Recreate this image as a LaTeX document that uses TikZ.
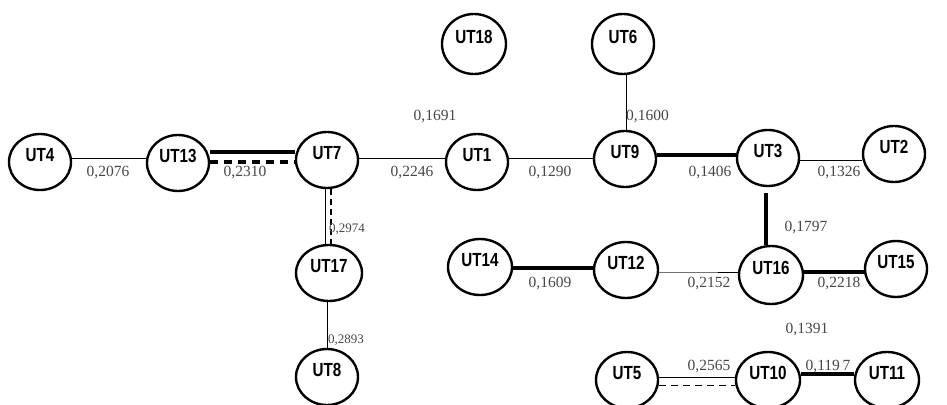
\documentclass[tikz,border=0pt]{standalone}
\usepackage{fontspec}
\setmainfont{Liberation Serif}
\newfontfamily\utfont{Liberation Sans}
\usetikzlibrary{shapes.geometric}
% node caption: condensed bold, sitting a little above the centre
\newcommand\utl[1]{\raisebox{14pt}{\scalebox{0.8}[1]{#1}}}

\begin{document}
\begin{tikzpicture}[x=1pt,y=-1pt,
  ut/.style={ellipse, draw, line width=2.4pt, minimum width=62pt, minimum height=56pt,
             inner sep=0pt, font=\utfont\bfseries\fontsize{19}{19}\selectfont},
  wt/.style={text=black!72, inner sep=0pt, font=\fontsize{15.5}{16}\selectfont},
  wts/.style={text=black!72, inner sep=0pt, anchor=west, font=\fontsize{13}{13}\selectfont},
  thinedge/.style={line width=0.9pt},
  thickedge/.style={line width=3.4pt},
  heavydash/.style={line width=3.4pt, dash pattern=on 8pt off 6pt},
  lightdash/.style={line width=1pt, dash pattern=on 7pt off 5pt},
]
\useasboundingbox (0,0) rectangle (947,404);
\clip (0,0) rectangle (947,404);

% ---- units ----
\node[ut] (UT4)  at (40,162)  {\utl{UT4}};
\node[ut] (UT13) at (178,163) {\utl{UT13}};
\node[ut] (UT7)  at (327,160) {\utl{UT7}};
\node[ut] (UT1)  at (477,162) {\utl{UT1}};
\node[ut] (UT9)  at (625,159) {\utl{UT9}};
\node[ut] (UT3)  at (768,158) {\utl{UT3}};
\node[ut] (UT2)  at (894,154) {\utl{UT2}};
\node[ut, minimum width=64pt, minimum height=60pt] (UT18) at (474,44)  {\utl{UT18}};
\node[ut, minimum height=60pt] (UT6)  at (623,44)  {\utl{UT6}};
\node[ut, minimum width=66pt] (UT17) at (329,273) {\utl{UT17}};
\node[ut] (UT8)  at (327,377) {\utl{UT8}};
\node[ut, minimum width=64pt] (UT14) at (480,267) {\utl{UT14}};
\node[ut, minimum width=64pt] (UT12) at (626,270) {\utl{UT12}};
\node[ut, minimum width=64pt, minimum height=58pt] (UT16) at (771,275) {\utl{UT16}};
\node[ut] (UT15) at (896,269) {\utl{UT15}};
\node[ut] (UT5)  at (627,380) {\utl{UT5}};
\node[ut, minimum width=64pt] (UT10) at (768,380) {\utl{UT10}};
\node[ut, minimum width=64pt] (UT11) at (887,380) {\utl{UT11}};

% ---- links, upper row ----
\draw[thinedge]  (UT4.east |- 0,158)  -- (UT13.west |- 0,158);
\draw[thickedge] (UT13.east |- 0,152) -- (UT7.west |- 0,152);
\draw[heavydash] (UT13.east |- 0,162) -- (UT7.west |- 0,162);
\draw[thinedge]  (UT7.east |- 0,158)  -- (UT1.west |- 0,158);
\draw[thinedge]  (UT1.east |- 0,158)  -- (UT9.west |- 0,158);
\draw[thickedge] (UT9.east |- 0,155)  -- (UT3.west |- 0,155);
\draw[thinedge]  (UT3.east |- 0,160)  -- (UT2.west |- 0,160);

% ---- vertical links ----
\draw[thinedge]  (UT6.south -| 626,0) -- (UT9.north -| 626,0);
\draw[thinedge]  (UT7.south -| 325,0) -- (UT17.north -| 325,0);
\draw[line width=2.2pt, dash pattern=on 6pt off 4pt] (UT7.south -| 331,0) -- (UT17.north -| 331,0);
\draw[thinedge]  (UT17.south -| 327,0) -- (UT8.north -| 327,0);
\draw[thickedge] ([yshift=-6pt]UT3.south -| 766,0) -- (UT16.north -| 766,0);

% ---- middle row ----
\draw[thickedge] (UT14.east |- 0,268) -- (UT12.west |- 0,268);
\draw[thinedge, black!55] (UT12.east |- 0,272) -- (UT16.west |- 0,272);
\draw[thinedge] ([xshift=-20pt]UT16.west |- 0,272) -- (UT16.west |- 0,272);
\draw[thickedge] (UT16.east |- 0,272) -- (UT15.west |- 0,272);

% ---- lower row ----
\draw[thinedge]  (UT5.east |- 0,377)  -- (UT10.west |- 0,377);
\draw[lightdash] (UT5.east |- 0,385)  -- (UT10.west |- 0,385);
\draw[thickedge] (UT10.east |- 0,374) -- (UT11.west |- 0,374);

% ---- weights ----
\node[wt] (w1)  at (108,173) {0,2076};
\node[wt] (w2)  at (245,173) {0,2310};
\node[wt] (w3)  at (412,173) {0,2246};
\node[wt] (w4)  at (435,117) {0,1691};
\node[wt] (w5)  at (550,173) {0,1290};
\node[wt, anchor=west] (w6) at (626,117) {0,1600};
\node[wt] (w7)  at (710,173) {0,1406};
\node[wt] (w8)  at (839,173) {0,1326};
\node[wts] (w9)  at (329,229) {0,2974};
\node[wts] (w10) at (328,340) {0,2893};
\node[wt] (w11) at (806,228) {0,1797};
\node[wt] (w12) at (550,284) {0,1609};
\node[wt] (w13) at (709,284) {0,2152};
\node[wt] (w14) at (839,284) {0,2218};
\node[wt] (w15) at (807,330) {0,1391};
\node[wt] (w16) at (709,367) {0,2565};
\node[wt] (w17) at (828,367) {0,119\,7};
\end{tikzpicture}
\end{document}
